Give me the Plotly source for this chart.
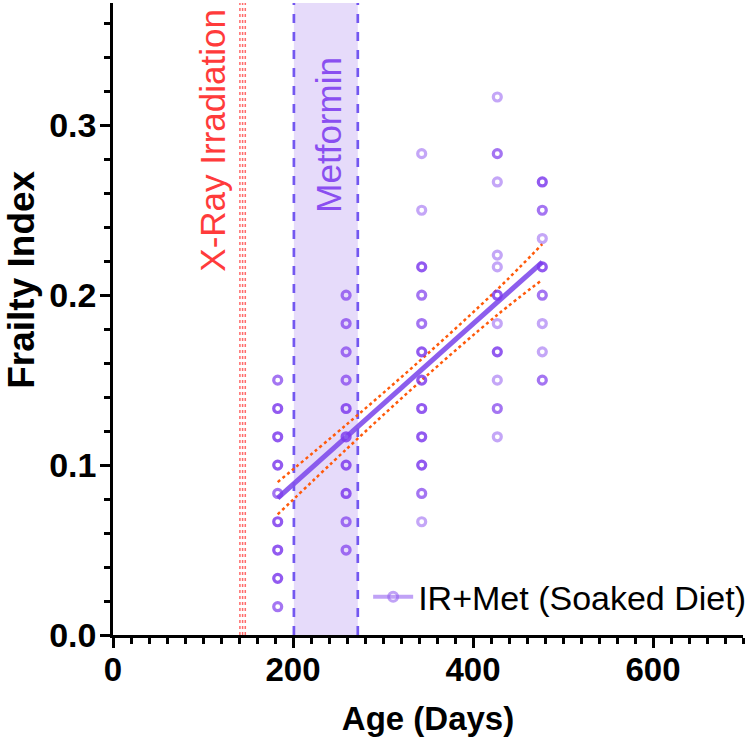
import plotly.graph_objects as go

# ---------------- data ----------------
ages = [183, 259, 343, 427, 477]

# frailty index values per time point and number of overlapping animals
fi_183 = [1/60, 2/60, 3/60, 4/60, 5/60, 6/60, 7/60, 8/60, 9/60]
n_183 = [2, 3, 3, 3, 2, 3, 3, 3, 2]

fi_259 = [3/60, 4/60, 5/60, 6/60, 7/60, 8/60, 9/60, 10/60, 11/60, 12/60]
n_259 = [2, 2, 3, 3, 3, 3, 2, 2, 2, 2]

fi_343 = [4/60, 5/60, 6/60, 7/60, 8/60, 9/60, 10/60, 11/60, 12/60, 13/60, 15/60, 17/60]
n_343 = [1, 2, 3, 3, 3, 3, 3, 2, 2, 3, 1, 1]

fi_427 = [7/60, 8/60, 9/60, 10/60, 11/60, 12/60, 13/60, 0.2236, 16/60, 17/60, 19/60]
n_427 = [1, 2, 1, 3, 1, 3, 1, 1, 1, 2, 1]

fi_477 = [9/60, 10/60, 11/60, 12/60, 13/60, 14/60, 15/60, 16/60]
n_477 = [2, 1, 1, 2, 3, 1, 2, 3]

groups = [(ages[0], fi_183, n_183), (ages[1], fi_259, n_259), (ages[2], fi_343, n_343),
          (ages[3], fi_427, n_427), (ages[4], fi_477, n_477)]

# linear regression and its 95% confidence band
fit_x = [183, 477]
fit_y = [0.0805, 0.2195]
ci_x = [183, 260, 343, 427, 477]
ci_upper = [0.0900, 0.1241, 0.1624, 0.2034, 0.2301]
ci_lower = [0.0710, 0.1097, 0.1500, 0.1884, 0.2091]

xray_days = [141, 144, 147]
metformin_start, metformin_end = 201, 272

x_ticks = [0, 200, 400, 600]
y_ticks = [0.0, 0.1, 0.2, 0.3]
y_tick_labels = ["0.0", "0.1", "0.2", "0.3"]

# ---------------- figure ----------------
FONT = "Liberation Sans, Arial, Helvetica, sans-serif"
PURPLE = (124, 58, 237)

fig = go.Figure()

# Metformin band
fig.add_shape(type="rect", x0=metformin_start, x1=metformin_end, y0=0, y1=1,
              xref="x", yref="paper", fillcolor="rgba(200,175,245,0.45)",
              line=dict(width=0), layer="below")
for xv in (metformin_start, metformin_end):
    fig.add_shape(type="line", x0=xv, x1=xv, y0=0, y1=1, xref="x", yref="paper",
                  line=dict(color="#7357f0", width=2.7, dash="dash"), layer="below")

# X-ray lines
for xv in xray_days:
    fig.add_shape(type="line", x0=xv, x1=xv, y0=0, y1=1, xref="x", yref="paper",
                  line=dict(color="rgba(255,70,70,0.8)", width=1.5, dash="dot"),
                  layer="below")

# confidence band
for ys in (ci_upper, ci_lower):
    fig.add_trace(go.Scatter(x=ci_x, y=ys, mode="lines", showlegend=False,
                             line=dict(color="#ff5a0a", width=2.5, dash="dot",
                                       shape="spline"),
                             hoverinfo="skip"))

# fit line
fig.add_trace(go.Scatter(x=fit_x, y=fit_y, mode="lines", showlegend=False,
                         line=dict(color="rgba(130,80,235,0.92)", width=5),
                         hoverinfo="skip"))

# data points (drawn above the fit)
base_a = 0.45
for age, vals, counts in groups:
    cols = []
    for c in counts:
        a = 1 - (1 - base_a) ** c
        cols.append(f"rgba({PURPLE[0]},{PURPLE[1]},{PURPLE[2]},{a:.3f})")
    fig.add_trace(go.Scatter(
        x=[age] * len(vals), y=vals, mode="markers", showlegend=False,
        marker=dict(symbol="circle-open", size=8,
                    color=cols, line=dict(width=3.2, color=cols)),
        hoverinfo="skip"))

# legend entry
fig.add_trace(go.Scatter(x=[None], y=[None], mode="lines+markers",
                         name="IR+Met (Soaked Diet)",
                         line=dict(color="rgba(150,100,240,0.6)", width=4),
                         marker=dict(symbol="circle-open", size=9,
                                     color="rgba(150,100,240,0.6)",
                                     line=dict(width=3))))

# annotations
fig.add_annotation(x=111, y=0.2915, text="X-Ray Irradiation", textangle=-90,
                   showarrow=False, font=dict(family=FONT, size=35, color="#ff3b3b"))
fig.add_annotation(x=240, y=0.2945, text="Metformin", textangle=-90,
                   showarrow=False, font=dict(family=FONT, size=35, color="#8a4ff0"))

# y-axis title (placed as annotation to match its off-centre position)
fig.add_annotation(x=0, y=0.562, xref="paper", yref="paper", xshift=-91,
                   xanchor="center", yanchor="middle", textangle=-90,
                   text="<b>Frailty Index</b>", showarrow=False,
                   font=dict(family=FONT, size=37, color="black"))

fig.update_layout(
    width=756, height=745,
    margin=dict(l=113, r=13, t=3, b=110, autoexpand=False),
    paper_bgcolor="white", plot_bgcolor="white",
    font=dict(family=FONT, color="black"),
    legend=dict(x=0.405, y=0.06, xanchor="left", yanchor="middle",
                bgcolor="rgba(0,0,0,0)", font=dict(family=FONT, size=34, color="black"),
                itemwidth=40),
    showlegend=True,
)

fig.update_xaxes(
    range=[0, 700], tickvals=x_ticks, ticktext=[str(v) for v in x_ticks],
    showgrid=False, zeroline=False, automargin=False,
    showline=True, linecolor="black", linewidth=2.5,
    ticks="outside", ticklen=10, tickwidth=2.5, tickcolor="black",
    ticklabelstandoff=-6,
    tickfont=dict(family=FONT, size=33, color="black", weight="bold"),
    minor=dict(dtick=20, tick0=0, ticks="outside", ticklen=6, tickwidth=2.5,
               tickcolor="black", showgrid=False),
    title=dict(text="<b>Age (Days)</b>", font=dict(family=FONT, size=33, color="black"),
               standoff=20),
)
fig.update_yaxes(
    range=[0, 0.372], tickvals=y_ticks, ticktext=y_tick_labels,
    showgrid=False, zeroline=False, automargin=False,
    showline=True, linecolor="black", linewidth=2.5,
    ticks="outside", ticklen=10, tickwidth=2.5, tickcolor="black",
    ticklabelstandoff=-3,
    tickfont=dict(family=FONT, size=34, color="black", weight="bold"),
    minor=dict(dtick=0.02, tick0=0, ticks="outside", ticklen=6, tickwidth=2.5,
               tickcolor="black", showgrid=False),
)

fig.write_html("out.html", config={"displayModeBar": False},
               post_script="document.body.style.margin='0';document.body.style.overflow='hidden';")
